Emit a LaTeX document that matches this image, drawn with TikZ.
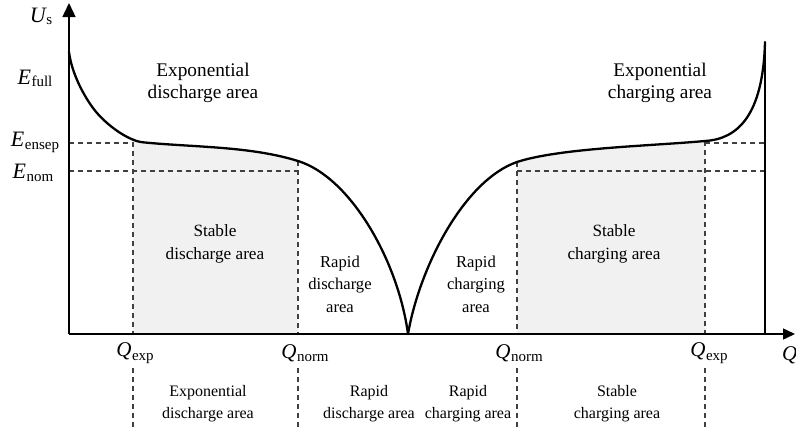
\documentclass[tikz,border=0pt]{standalone}
\usepackage{fontspec}
\setmainfont{Liberation Serif}
\usetikzlibrary{arrows.meta}

% symbol with an upright subscript, e.g. E_full, Q_exp
\newcommand{\symlbl}[5]{{\fontsize{#3}{#3}\selectfont\itshape #1}\kern0.5pt\raisebox{#5}{\fontsize{#4}{#4}\selectfont #2}}

\definecolor{areafill}{HTML}{F1F1F1}

\tikzset{
  axisline/.style={line width=1.5pt, draw=black},
  curveline/.style={line width=2.3pt, draw=black, line cap=round, line join=round},
  guide/.style={line width=1.1pt, draw=black!75, dash pattern=on 5pt off 4pt},
  bigarea/.style={align=center, font=\fontsize{19.3}{22.5}\selectfont},
  midarea/.style={align=center, font=\fontsize{17.2}{22.5}\selectfont},
  smallarea/.style={align=center, font=\fontsize{16.6}{22.5}\selectfont},
  lowarea/.style={align=center, font=\fontsize{16}{22}\selectfont},
  symnode/.style={inner sep=0pt},
}

\begin{document}
\begin{tikzpicture}[x=1pt, y=-1pt]
\useasboundingbox (0,0) rectangle (796,429);

% reference points
\coordinate (O) at (69,334);
\coordinate (ytip) at (69,3);
\coordinate (xtip) at (795,334);
\coordinate (rtop) at (765,42);
\coordinate (rbot) at (765,334);

% shaded stable areas under the curve
\begin{scope}
  \clip (133,0) rectangle (298,334);
  \fill[areafill] (69,52) .. controls (72,76) and (87,101.5) .. (97,113)
    .. controls (109,126.8) and (129,140.9) .. (143,142.3)
    .. controls (193,147.3) and (250,146) .. (298,161)
    .. controls (350,177) and (398,260) .. (408,334) -- (69,334) -- cycle;
\end{scope}
\begin{scope}
  \clip (517,0) rectangle (705,334);
  \fill[areafill] (408,334) .. controls (420,265) and (465,180) .. (517,162)
    .. controls (560,148) and (650,146) .. (705,141)
    .. controls (738,139) and (763,115) .. (765,42) -- (765,334) -- cycle;
\end{scope}

% dashed guide lines
\coordinate (ens0) at (69,143);  \coordinate (ens1) at (133,143);
\coordinate (ens2) at (705,143); \coordinate (ens3) at (765,143);
\coordinate (nom0) at (69,171);  \coordinate (nom1) at (298,171);
\coordinate (nom2) at (517,171); \coordinate (nom3) at (765,171);
\draw[guide] (ens0) -- (ens1);
\draw[guide] (ens2) -- (ens3);
\draw[guide] (nom0) -- (nom1);
\draw[guide] (nom2) -- (nom3);

\foreach \xx/\yy in {133/142, 298/161, 517/162, 705/141}{
  \draw[guide] (\xx,\yy) -- (\xx,334);
  \draw[guide] (\xx,368) -- (\xx,429);
}

% the voltage curve: discharge branch, then charging branch
\draw[curveline] (69,52) .. controls (72,76) and (87,101.5) .. (97,113)
  .. controls (109,126.8) and (129,140.9) .. (143,142.3)
  .. controls (193,147.3) and (250,146) .. (298,161)
  .. controls (350,177) and (398,260) .. (408,334);
\draw[curveline] (408,334) .. controls (420,265) and (465,180) .. (517,162)
  .. controls (560,148) and (650,146) .. (705,141)
  .. controls (738,139) and (763,115) .. (765,42);

% axes
\draw[axisline, -{Triangle[length=14pt, width=13pt]}] (O) -- (ytip);
\draw[axisline, -{Triangle[length=12pt, width=11pt]}] (O) -- (xtip);
\draw[line width=2pt] (rtop) -- (rbot);

% axis labels
\node[symnode] (us) at (41,16) {\symlbl{U}{s}{22}{15}{-2pt}};
\node[symnode] (efull) at (35,78) {\symlbl{E}{full}{22}{15}{-2pt}};
\node[symnode] (eensep) at (35,142) {\symlbl{E}{ensep}{22}{15}{-3pt}};
\node[symnode] (enom) at (33,173) {\symlbl{E}{nom}{22}{15}{-3pt}};
\node[symnode] (qexpl) at (135,353) {\symlbl{Q}{exp}{21}{15}{-3.5pt}};
\node[symnode] (qnorml) at (305,353) {\symlbl{Q}{norm}{21}{15}{-3.5pt}};
\node[symnode] (qnormr) at (519,353) {\symlbl{Q}{norm}{21}{15}{-3.5pt}};
\node[symnode] (qexpr) at (709,353) {\symlbl{Q}{exp}{21}{15}{-3.5pt}};
\node[symnode, anchor=west] (qaxis) at (782,355) {{\fontsize{21}{21}\selectfont\itshape Q}};

% area labels inside the plot
\node[bigarea] (expdis) at (203,83) {Exponential\\discharge area};
\node[bigarea] (expchg) at (660,83) {Exponential\\charging area};
\node[midarea] (stadis) at (215,244) {Stable\\discharge area};
\node[midarea] (stachg) at (614,244) {Stable\\charging area};
\node[smallarea] (rapdis) at (340,284) {Rapid\\discharge\\area};
\node[smallarea] (rapchg) at (476,284) {Rapid\\charging\\area};

% area labels below the axis
\node[lowarea] (lexpdis) at (208,404) {Exponential\\discharge area};
\node[lowarea] (lrapdis) at (369,404) {Rapid\\discharge area};
\node[lowarea] (lrapchg) at (468,404) {Rapid\\charging area};
\node[lowarea] (lstachg) at (617,404) {Stable\\charging area};
\end{tikzpicture}
\end{document}
